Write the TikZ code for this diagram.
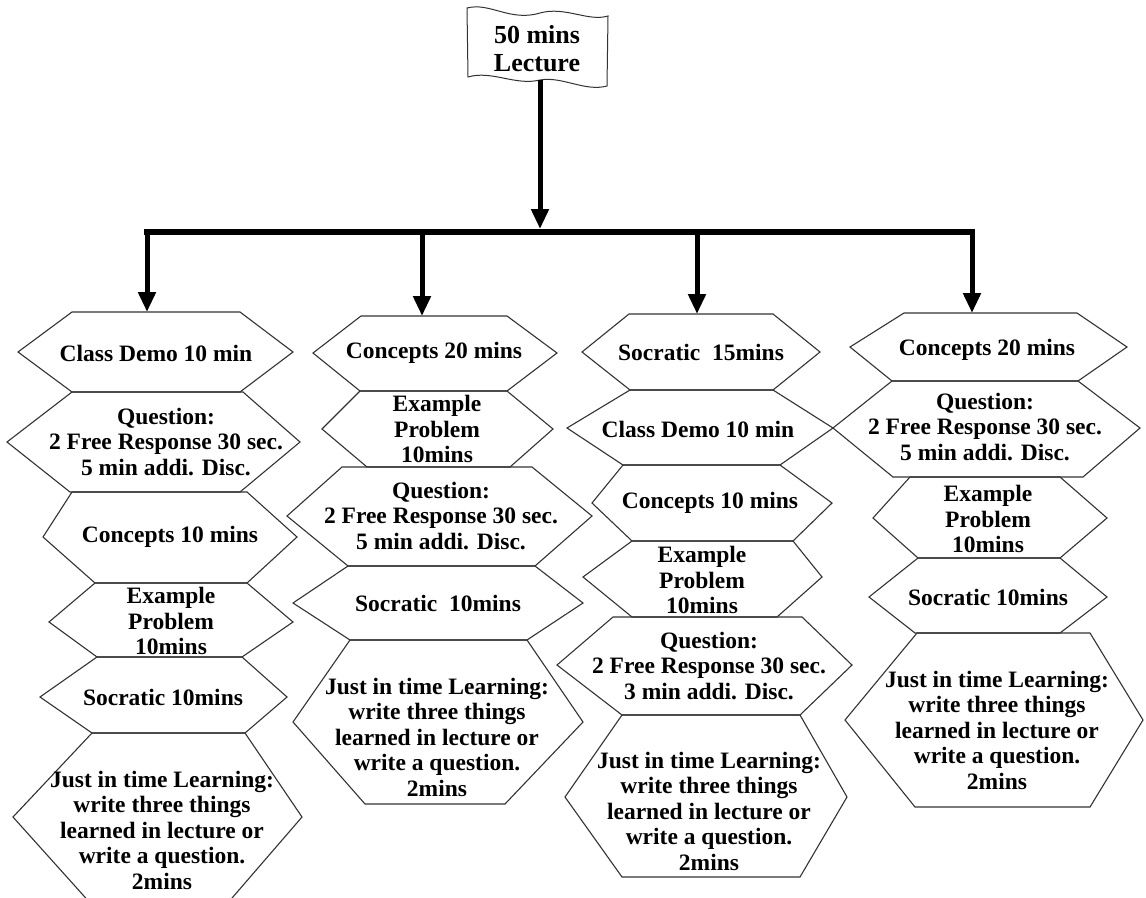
\documentclass[tikz,border=0pt]{standalone}
\usepackage{fontspec}
\setmainfont{Liberation Serif}
\usetikzlibrary{arrows.meta}
\newcommand{\hexag}[9]{%
  \draw[hexline] (#3,#1) -- (#4,#1) -- (#8,#9) -- (#6,#2) -- (#5,#2) -- (#7,#9) -- cycle;}
\begin{document}
\begin{tikzpicture}[x=1pt,y=-1pt,
  hexline/.style={draw=black!80, line width=1.1pt, line join=miter},
  txt/.style={align=center, inner sep=0pt, font=\bfseries\fontsize{23.5}{25.5}\selectfont},
  flagtxt/.style={align=center, inner sep=0pt, font=\bfseries\fontsize{26}{28}\selectfont},
  flagline/.style={draw=black!80, line width=1pt},
  conn/.style={line width=5pt, -{Triangle[length=20pt,width=17pt]}},
  barline/.style={line width=6pt, line cap=rect}]
\useasboundingbox (0,0) rectangle (1146,897);
\clip (0,0) rectangle (1146,897);
\fill[white] (0,0) rectangle (1146,897);

% flag
\draw[flagline] (467,8) .. controls (490,2) and (510,22) .. (540,13)
  .. controls (565,6) and (588,22) .. (608,16) -- (607,86)
  .. controls (585,92) and (562,76) .. (540,80)
  .. controls (515,86) and (492,70) .. (468,77) -- cycle;
\node[flagtxt] (flag) at (537,49) {50 mins\\Lecture};
\coordinate (flagbot) at (540,80);

% bar and connectors
\coordinate (barmid) at (540,229);
\coordinate (b1) at (147,232);
\coordinate (b2) at (422,232);
\coordinate (b3) at (697,232);
\coordinate (b4) at (972,232);
\coordinate (t1) at (147,312);
\coordinate (t2) at (422,316);
\coordinate (t3) at (697,314);
\coordinate (t4) at (972,313);
\draw[barline] (b1) -- (b4);
\draw[conn] (flagbot) -- (barmid);
\draw[conn] (b1) -- (t1);
\draw[conn] (b2) -- (t2);
\draw[conn] (b3) -- (t3);
\draw[conn] (b4) -- (t4);

% column 1
\hexag{312}{392}{72}{240}{72}{240}{18}{293}{352}
\hexag{392}{492}{72}{243}{70}{240}{7}{300}{442}
\hexag{492}{583}{72}{247}{95}{247}{43}{297}{537}
\hexag{583}{657}{95}{247}{97}{242}{49}{293}{622}
\hexag{657}{733}{97}{242}{92}{245}{40}{287}{697}
\hexag{733}{905}{92}{245}{92}{226}{13}{302}{817}
\node[txt] (a1) at (156,353) {Class Demo 10 min};
\node[txt] (a2) at (166,442) {Question:\\2 Free Response 30 sec.\\5 min addi. Disc.};
\node[txt] (a3) at (170,537) {Concepts 10 mins};
\node[txt] (a4) at (171,621) {Example\\Problem\\10mins};
\node[txt] (a5) at (163,697) {Socratic 10mins};
\node[txt] (a6) at (162,830) {Just in time Learning:\\write three things\\learned in lecture or\\write a question.\\2mins};

% column 2
\hexag{316}{391}{361}{507}{360}{507}{313}{557}{353}
\hexag{391}{467}{360}{507}{367}{510}{322}{553}{429}
\hexag{467}{566}{342}{532}{348}{535}{287}{592}{516}
\hexag{566}{640}{348}{535}{350}{527}{293}{583}{603}
\hexag{640}{804}{350}{527}{365}{505}{293}{583}{722}
\node[txt] (b1t) at (434,353) {Concepts 20 mins};
\node[txt] (b2t) at (437,429) {Example\\Problem\\10mins};
\node[txt] (b3t) at (441,516) {Question:\\2 Free Response 30 sec.\\5 min addi. Disc.};
\node[txt] (b4t) at (438,603) {Socratic\ \ 10mins};
\node[txt] (b5t) at (437,737) {Just in time Learning:\\write three things\\learned in lecture or\\write a question.\\2mins};

% column 3
\hexag{314}{390}{629}{773}{630}{773}{582}{820}{352}
\hexag{390}{465}{630}{773}{623}{780}{567}{833}{428}
\hexag{465}{541}{623}{780}{632}{793}{592}{832}{503}
\hexag{541}{617}{632}{793}{632}{777}{583}{822}{577}
\hexag{617}{715}{613}{802}{622}{800}{557}{852}{665}
\hexag{715}{877}{622}{800}{622}{800}{565}{847}{797}
\node[txt] (c1t) at (701,352) {Socratic\ \ 15mins};
\node[txt] (c2t) at (698,429) {Class Demo 10 min};
\node[txt] (c3t) at (710,503) {Concepts 10 mins};
\node[txt] (c4t) at (702,580) {Example\\Problem\\10mins};
\node[txt] (c5t) at (709,666) {Question:\\2 Free Response 30 sec.\\3 min addi. Disc.};
\node[txt] (c6t) at (709,811) {Just in time Learning:\\write three things\\learned in lecture or\\write a question.\\2mins};

% column 4
\hexag{313}{381}{904}{1077}{892}{1078}{850}{1127}{347}
\hexag{381}{477}{892}{1078}{893}{1083}{833}{1140}{428}
\hexag{477}{558}{910}{1060}{918}{1060}{873}{1107}{518}
\hexag{558}{633}{918}{1060}{915}{1060}{869}{1107}{597}
\hexag{633}{807}{917}{1090}{915}{1090}{845}{1143}{720}
\node[txt] (d1t) at (987,350) {Concepts 20 mins};
\node[txt] (d2t) at (985,427) {Question:\\2 Free Response 30 sec.\\5 min addi. Disc.};
\node[txt] (d3t) at (988,519) {Example\\Problem\\10mins};
\node[txt] (d4t) at (988,597) {Socratic 10mins};
\node[txt] (d5t) at (997,730) {Just in time Learning:\\write three things\\learned in lecture or\\write a question.\\2mins};
\end{tikzpicture}
\end{document}
